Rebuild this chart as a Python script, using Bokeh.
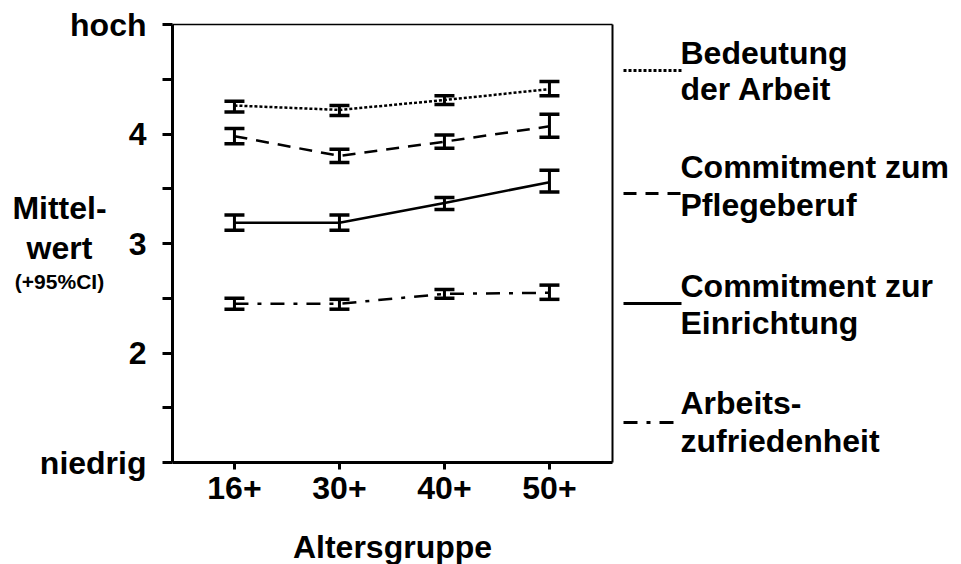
from bokeh.plotting import figure
from bokeh.models import Range1d, FixedTicker, Whisker, TeeHead, ColumnDataSource, LinearAxis
from bokeh.core.properties import value
from bokeh.embed import file_html
from bokeh.resources import INLINE

# ---------------- data ----------------
categories = ["16+", "30+", "40+", "50+"]

bedeut_mean = [4.26, 4.22, 4.31, 4.41]
bedeut_lower = [4.20, 4.17, 4.27, 4.35]
bedeut_upper = [4.30, 4.26, 4.35, 4.48]

pflege_mean = [3.98, 3.80, 3.93, 4.07]
pflege_lower = [3.91, 3.74, 3.87, 3.97]
pflege_upper = [4.05, 3.86, 3.99, 4.18]

einricht_mean = [3.19, 3.19, 3.37, 3.56]
einricht_lower = [3.12, 3.12, 3.31, 3.47]
einricht_upper = [3.26, 3.26, 3.42, 3.67]

arbeit_mean = [2.45, 2.45, 2.54, 2.55]
arbeit_lower = [2.40, 2.40, 2.50, 2.49]
arbeit_upper = [2.50, 2.49, 2.58, 2.62]

series_line1 = ["Bedeutung", "Commitment zum", "Commitment zur", "Arbeits-"]
series_line2 = ["der Arbeit", "Pflegeberuf", "Einrichtung", "zufriedenheit"]

y_major_ticks = [1, 2, 3, 4, 5]
y_minor_ticks = [1.5, 2.5, 3.5, 4.5]
y_tick_labels = ["niedrig", "2", "3", "4", "hoch"]

x_title = "Altersgruppe"
y_title = ["Mittel-", "wert", "(+95%CI)"]

# ---------------- style / layout ----------------
FONT = "Liberation Sans"
FS = "32px"
dashes = ["3 2", "13 9", "solid", "14 9 4 9"]

W, H = 961, 564
Y0, Y1 = 1, 5                 # value axis (niedrig .. hoch)
XMIN, XMAX = 0.41, 4.6        # extent of the plot box along the category axis
BOX_L, BOX_T, BOX_B = 172, 24, 462  # box edges in page pixels
Y_PX = (BOX_B - BOX_T) / (Y1 - Y0)
X_PX = 105.0

xs = list(range(1, len(categories) + 1))

p = figure(width=W, height=H,
           x_range=Range1d(XMIN - BOX_L / X_PX, XMIN + (W - BOX_L) / X_PX),
           y_range=Range1d(Y0 - (H - BOX_B) / Y_PX, Y1 + BOX_T / Y_PX),
           x_axis_type=None, y_axis_type=None, min_border=0,
           output_backend="svg", toolbar_location=None, title=None)
p.outline_line_color = None
p.extra_x_ranges = {"px": Range1d(0, W)}
p.extra_y_ranges = {"px": Range1d(H, 0)}


def style_axis(ax, lw):
    ax.axis_line_width = lw
    ax.axis_line_color = "black"
    ax.major_tick_line_width = 3
    ax.minor_tick_line_width = 3
    ax.major_tick_in = 0
    ax.minor_tick_in = 0
    ax.major_label_text_font = FONT
    ax.major_label_text_font_style = "bold"
    ax.major_label_text_font_size = FS
    ax.major_label_text_color = "black"


yax = LinearAxis(fixed_location=XMIN, bounds=(Y0, Y1),
                 ticker=FixedTicker(ticks=y_major_ticks, minor_ticks=y_minor_ticks),
                 major_label_overrides={t: l for t, l in zip(y_major_ticks, y_tick_labels)})
style_axis(yax, 3)
yax.major_tick_out = 10
yax.minor_tick_out = 10
yax.major_label_standoff = 16
p.add_layout(yax, "left")

xax = LinearAxis(fixed_location=Y0, bounds=(XMIN, XMAX),
                 ticker=FixedTicker(ticks=xs, minor_ticks=[]),
                 major_label_overrides={x: c for x, c in zip(xs, categories)})
style_axis(xax, 3)
xax.major_tick_out = 7
xax.major_label_standoff = 7
xax.axis_label = x_title
xax.axis_label_text_font = FONT
xax.axis_label_text_font_style = "bold"
xax.axis_label_text_font_size = FS
xax.axis_label_text_color = "black"
xax.axis_label_standoff = 27
p.add_layout(xax, "below")

rax = LinearAxis(fixed_location=XMAX, bounds=(Y0, Y1), ticker=FixedTicker(ticks=[], minor_ticks=[]))
style_axis(rax, 2)
p.add_layout(rax, "right")

tax = LinearAxis(fixed_location=Y1, bounds=(XMIN, XMAX), ticker=FixedTicker(ticks=[], minor_ticks=[]))
style_axis(tax, 1.5)
p.add_layout(tax, "above")

series = [
    (bedeut_mean, bedeut_lower, bedeut_upper),
    (pflege_mean, pflege_lower, pflege_upper),
    (einricht_mean, einricht_lower, einricht_upper),
    (arbeit_mean, arbeit_lower, arbeit_upper),
]

for (m, lo, up), dash in zip(series, dashes):
    src = ColumnDataSource(dict(x=xs, mean=m, lower=lo, upper=up))
    p.line("x", "mean", source=src, line_color="black", line_width=2.5, line_dash=dash)
    w = Whisker(base="x", upper="upper", lower="lower", source=src,
                line_color="black", line_width=3,
                upper_head=TeeHead(size=20, line_width=3.5, line_color="black"),
                lower_head=TeeHead(size=20, line_width=3.5, line_color="black"),
                level="overlay")
    p.add_layout(w)

# y title (horizontal, three lines), positioned in page pixels
title_x = [59, 59, 59]
title_y = [207, 247, 281]
title_sizes = [FS, FS, "21px"]
for t, tx, ty, fs in zip(y_title, title_x, title_y, title_sizes):
    p.text(x=[tx], y=[ty], text=[t], x_range_name="px", y_range_name="px",
           text_font=value(FONT), text_font_style="bold", text_font_size=fs,
           text_align="center", text_baseline="middle", text_color="black")

# legend, positioned in page pixels
line1_y = [52, 166, 285, 402]
line2_y = [88, 204, 322, 440]
sample_y = [70, 193, 303, 422]
for ly, d in zip(sample_y, dashes):
    p.line(x=[623, 681], y=[ly, ly], x_range_name="px", y_range_name="px",
           line_color="black", line_width=3, line_dash=d)

p.text(x=[680] * 4, y=line1_y, text=series_line1, x_range_name="px", y_range_name="px",
       text_font=value(FONT), text_font_style="bold", text_font_size=FS,
       text_baseline="middle", text_color="black")
p.text(x=[680] * 4, y=line2_y, text=series_line2, x_range_name="px", y_range_name="px",
       text_font=value(FONT), text_font_style="bold", text_font_size=FS,
       text_baseline="middle", text_color="black")

open("out.html", "w").write(file_html(p, INLINE))
